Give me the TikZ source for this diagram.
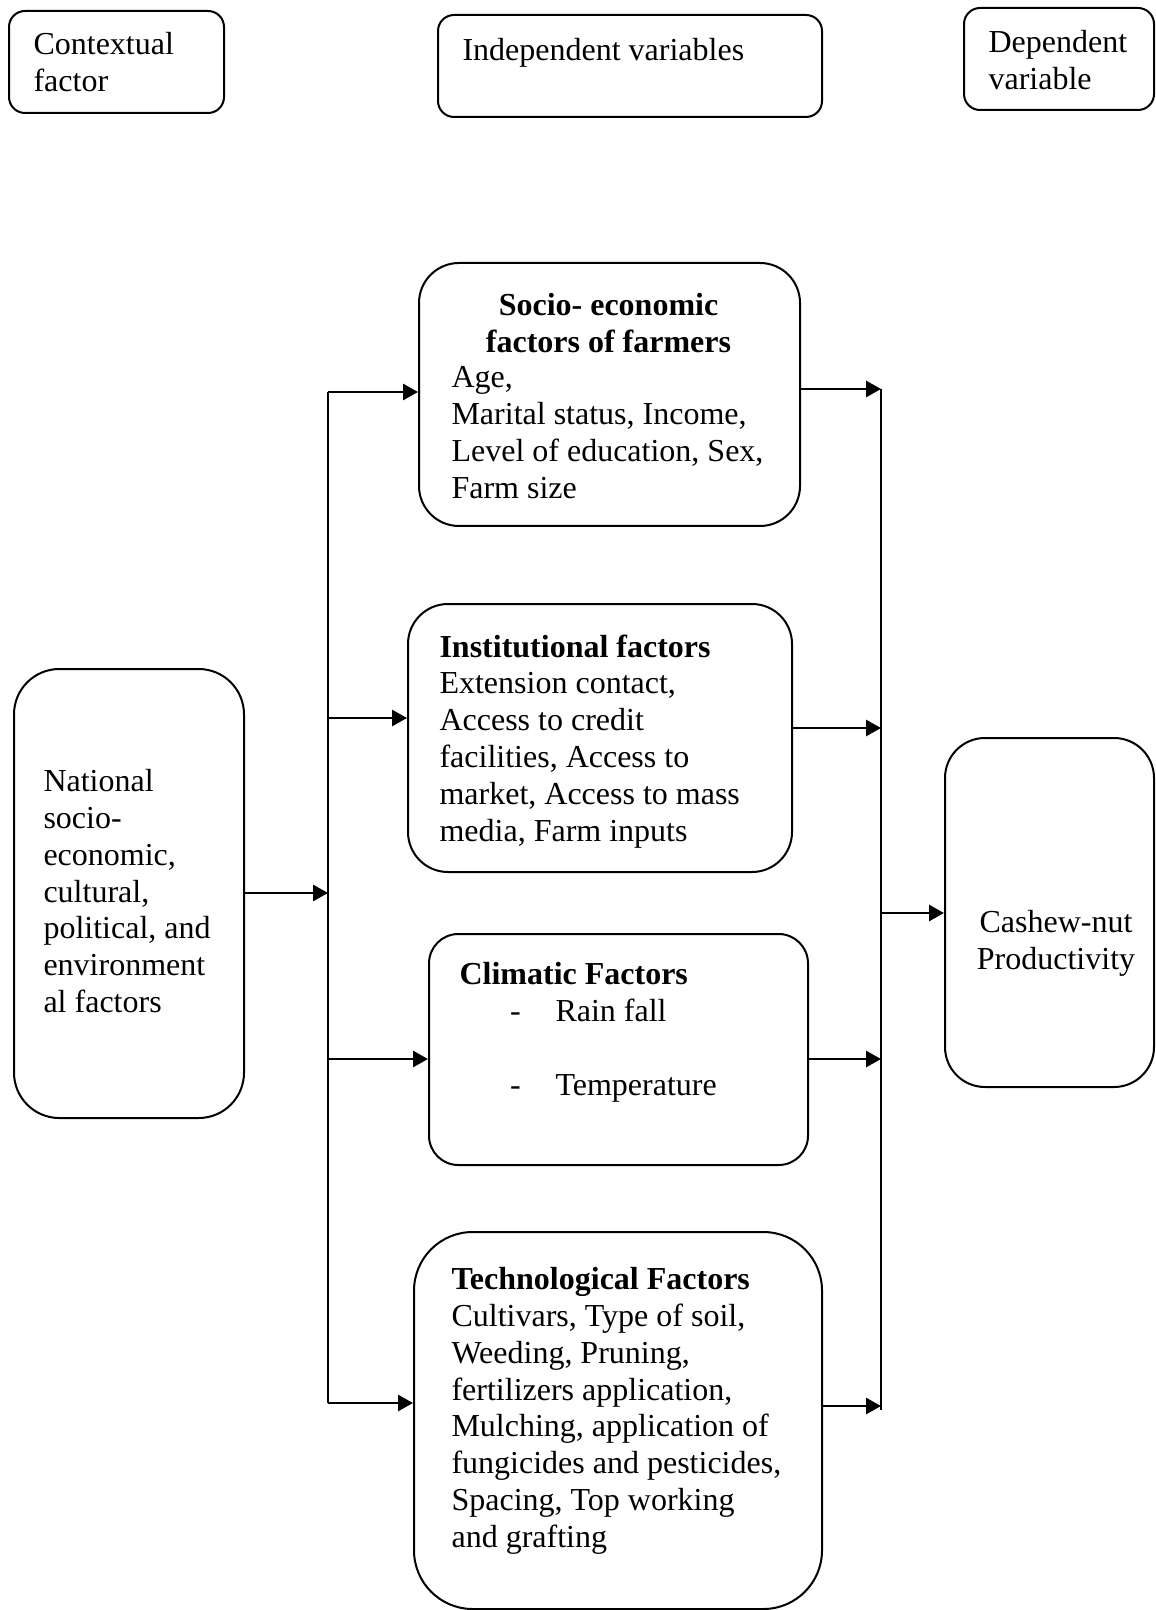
\documentclass[tikz,border=0pt]{standalone}
\usepackage{fontspec}
\setmainfont{Liberation Serif}
\usetikzlibrary{arrows.meta, positioning, calc}

\begin{document}
\begin{tikzpicture}[
    x=0.375pt, y=-0.375pt,
    font=\fontsize{12}{13.8}\selectfont,
    box/.style={
        draw=black,
        line width=0.75pt,
        rounded corners=#1,
        anchor=north west,
        inner sep=0pt
    },
    box/.default=15pt,
    size/.style 2 args={
        minimum width=#1*0.375pt,
        minimum height=#2*0.375pt
    },
    txt/.style={
        anchor=north west,
        align=left,
        inner sep=0pt
    },
    link/.style={line width=1pt},
    arr/.style={
        -{Triangle[length=5.6pt, width=6pt]},
        line width=1pt
    }
]
    \useasboundingbox (0,0) rectangle (1155,1610);

    % --- Headings ---
    \node[box=6pt, size={215}{102}] (ctxbox) at (8,10) {};
    \node[txt] (ctx) at (33,32) {Contextual\\factor};

    \node[box=6pt, size={384}{102}] (indbox) at (437,14) {};
    \node[txt] (ind) at (462,38) {Independent variables};

    \node[box=6pt, size={190}{102}] (depbox) at (963,7) {};
    \node[txt] (dep) at (988,30) {Dependent\\variable};

    % --- Contextual factor ---
    \node[box=17pt, size={230}{449}] (national) at (13,668) {};
    \node[txt] (nattext) at (43,769)
        {National\\socio-\\economic,\\cultural,\\political, and\\environment\\al factors};

    % --- Independent variables ---
    \node[box=15pt, size={381}{263}] (socio) at (418,262) {};
    \node[anchor=north, align=center, inner sep=0pt] (sociohead) at (608.5,293)
        {\textbf{Socio- economic}\\\textbf{factors of farmers}};
    \node[txt] (sociotext) at (451,366)
        {Age,\\Marital status, Income,\\Level of education, Sex,\\Farm size};

    \node[box=15pt, size={384}{268}] (inst) at (407,603) {};
    \node[txt] (insttext) at (439,634)
        {\textbf{Institutional factors}\\Extension contact,\\Access to credit\\facilities, Access to\\market, Access to mass\\media, Farm inputs};

    \node[box=11pt, size={379}{231}] (clim) at (428,933) {};
    \node[txt] (climtext) at (459,962)
        {\textbf{Climatic Factors}\\
         \hspace*{19pt}\makebox[17pt][l]{-}Rain fall\\[13.8pt]
         \hspace*{19pt}\makebox[17pt][l]{-}Temperature};

    \node[box=22pt, size={408}{377}] (tech) at (413,1231) {};
    \node[txt] (techtext) at (451,1267)
        {\textbf{Technological Factors}\\Cultivars, Type of soil,\\Weeding, Pruning,\\fertilizers application,\\Mulching, application of\\fungicides and pesticides,\\Spacing, Top working\\and grafting};

    % --- Dependent variable ---
    \node[box=15pt, size={209}{349}] (cashew) at (944,737) {};
    \node[anchor=north, align=center, inner sep=0pt] (cashewtext) at (1056,910)
        {Cashew-nut\\Productivity};

    % --- Left trunk ---
    \coordinate (l1) at (328,392);
    \coordinate (l2) at (328,718);
    \coordinate (lmid) at (328,893);
    \coordinate (l3) at (328,1059);
    \coordinate (l4) at (328,1403);

    \draw[link] (l1) -- (l4);
    \draw[arr] (national.east |- lmid) -- (lmid);
    \draw[arr] (l1) -- (l1 -| socio.west);
    \draw[arr] (l2) -- (l2 -| inst.west);
    \draw[arr] (l3) -- (l3 -| clim.west);
    \draw[arr] (l4) -- (l4 -| tech.west);

    % --- Right trunk ---
    \coordinate (r1) at (881,389);
    \coordinate (r2) at (881,728);
    \coordinate (rmid) at (881,913);
    \coordinate (r3) at (881,1059);
    \coordinate (r4) at (881,1406);
    \coordinate (rend) at (881,1410);

    \draw[link] (r1) -- (rend);
    \draw[arr] (socio.east |- r1) -- (r1);
    \draw[arr] (inst.east |- r2) -- (r2);
    \draw[arr] (clim.east |- r3) -- (r3);
    \draw[arr] (tech.east |- r4) -- (r4);
    \draw[arr] (rmid) -- (rmid -| cashew.west);

\end{tikzpicture}
\end{document}
